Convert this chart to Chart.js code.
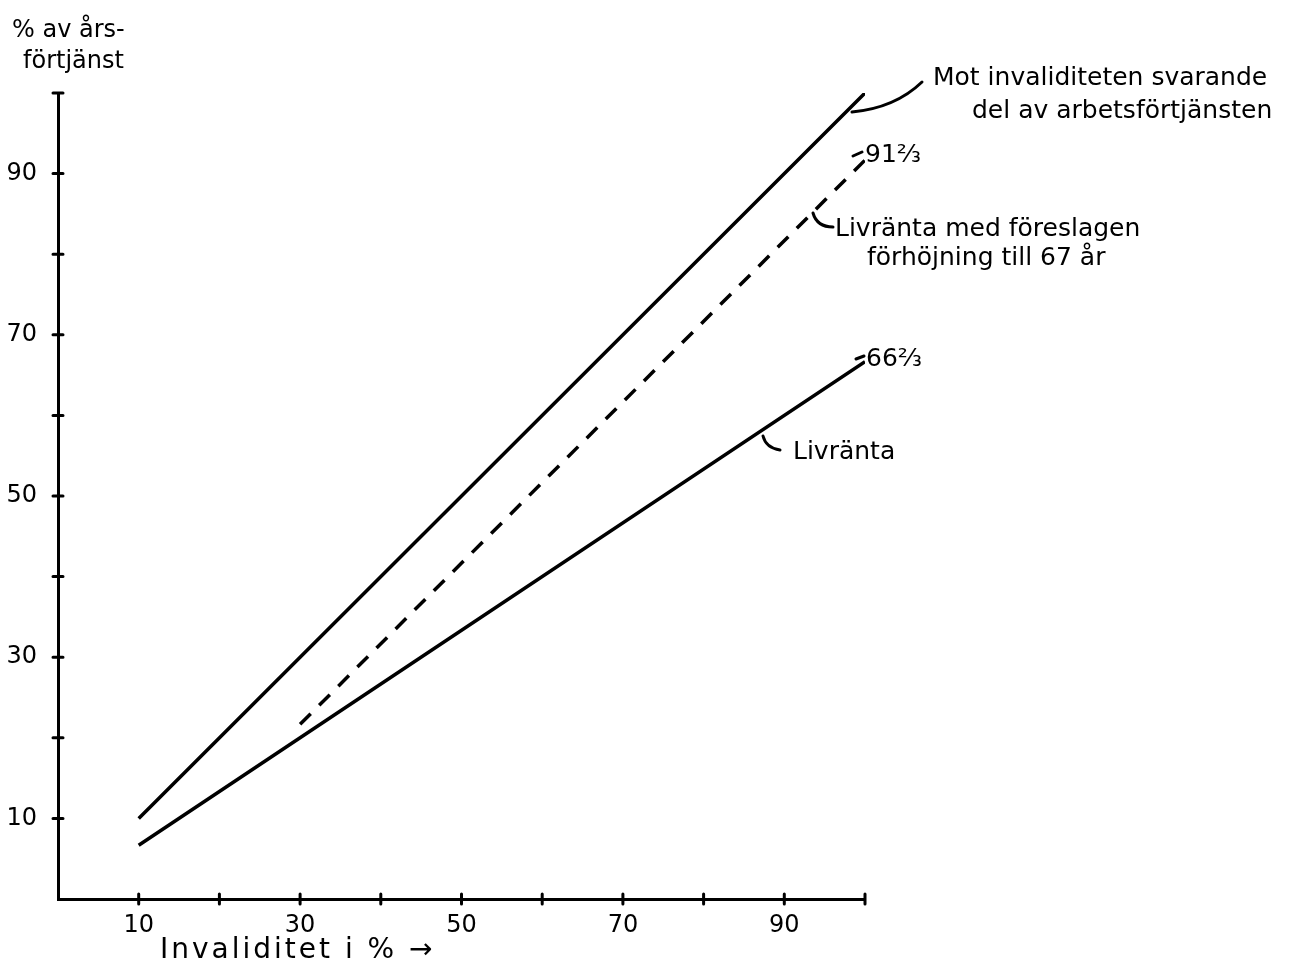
<!DOCTYPE html>
<html>
<head>
<meta charset="utf-8">
<script src="https://cdn.jsdelivr.net/npm/chart.js@4"></script>
<style>
  html, body { margin: 0; background: #fff; }
  #wrap { width: 1302px; height: 965px; }
</style>
</head>
<body>
<div id="wrap"><canvas id="chart"></canvas></div>
<script>
// Invaliditet i % (x) and % av årsförtjänst (y)
const invaliditet = [10, 30, 100];
const motInvaliditeten = [10, 30, 100];      // del av arbetsförtjänsten
const livrantaForhojd = [null, 21.67, 91.67];  // med föreslagen förhöjning till 67 år
const livranta = [6.67, 20, 66.67];
const tickValues = [10, 20, 30, 40, 50, 60, 70, 80, 90, 100];
const labeledTicks = [10, 30, 50, 70, 90];

const FONT = '"DejaVu Sans", sans-serif';

const toPoints = arr => invaliditet
  .map((x, i) => ({ x: x, y: arr[i] }))
  .filter(p => p.y !== null);

// crossing tick marks, leader strokes and the hand-lettered texts
const annotations = {
  id: 'annotations',
  afterDraw(chart) {
    const { ctx, scales: { x, y } } = chart;
    ctx.save();
    ctx.strokeStyle = '#000';
    ctx.lineCap = 'round';
    ctx.lineWidth = 3;

    tickValues.forEach(v => {
      const px = x.getPixelForValue(v);
      const py = y.getPixelForValue(v);
      ctx.beginPath();
      ctx.moveTo(px, y.bottom - 5); ctx.lineTo(px, y.bottom + 5);
      ctx.moveTo(x.left - 5, py); ctx.lineTo(x.left + 5, py);
      ctx.stroke();
    });

    // leaders
    ctx.beginPath();
    ctx.moveTo(852, 112); ctx.quadraticCurveTo(895, 108, 922, 82);
    ctx.moveTo(813, 213); ctx.quadraticCurveTo(817, 227, 833, 227);
    ctx.moveTo(763, 436); ctx.quadraticCurveTo(766, 448, 780, 450);
    ctx.moveTo(853, 156); ctx.lineTo(862, 152);
    ctx.moveTo(856, 359); ctx.lineTo(864, 356);
    ctx.stroke();

    ctx.fillStyle = '#000';
    ctx.textBaseline = 'alphabetic';
    ctx.textAlign = 'left';
    ctx.font = '24px ' + FONT;
    ctx.fillText('% av års-', 12, 37);
    ctx.fillText('förtjänst', 23, 68);

    ctx.font = '28px ' + FONT;
    ctx.letterSpacing = '3px';
    ctx.fillText('Invaliditet i % →', 160, 958);
    ctx.letterSpacing = '0px';

    ctx.font = '25px ' + FONT;
    ctx.fillText('Mot invaliditeten svarande', 933, 85);
    ctx.fillText('del av arbetsförtjänsten', 972, 118);
    ctx.fillText('Livränta med föreslagen', 835, 236);
    ctx.fillText('förhöjning till 67 år', 867, 265);
    ctx.fillText('Livränta', 793, 459);
    ctx.fillText('91⅔', 865, 162);
    ctx.fillText('66⅔', 866, 366);
    ctx.restore();
  }
};

const tickCallback = v => labeledTicks.includes(v) ? String(v) : '';

new Chart(document.getElementById('chart'), {
  type: 'line',
  data: {
    datasets: [
      {
        label: 'Mot invaliditeten svarande del av arbetsförtjänsten',
        data: toPoints(motInvaliditeten),
        borderColor: '#000', borderWidth: 3.5, pointRadius: 0
      },
      {
        label: 'Livränta med föreslagen förhöjning till 67 år',
        data: toPoints(livrantaForhojd),
        borderColor: '#000', borderWidth: 3.5, borderDash: [15, 12], pointRadius: 0
      },
      {
        label: 'Livränta',
        data: toPoints(livranta),
        borderColor: '#000', borderWidth: 3.5, pointRadius: 0
      }
    ]
  },
  options: {
    responsive: true,
    maintainAspectRatio: false,
    animation: false,
    devicePixelRatio: 1,
    layout: { padding: { top: 93, right: 437, left: 0, bottom: 0 } },
    plugins: { legend: { display: false }, tooltip: { enabled: false } },
    scales: {
      x: {
        type: 'linear', min: 0, max: 100,
        grid: { display: false },
        border: { display: true, color: '#000', width: 3 },
        ticks: { stepSize: 10, autoSkip: false, maxRotation: 0, padding: 4,
                 color: '#000', font: { family: FONT, size: 24 }, callback: tickCallback },
        afterFit(scale) { scale.height = 66; }
      },
      y: {
        type: 'linear', min: 0, max: 100,
        grid: { display: false },
        border: { display: true, color: '#000', width: 3 },
        ticks: { stepSize: 10, autoSkip: false, padding: 13,
                 color: '#000', font: { family: FONT, size: 24 }, callback: tickCallback },
        afterFit(scale) { scale.width = 58; }
      }
    }
  },
  plugins: [annotations]
});
</script>
</body>
</html>
